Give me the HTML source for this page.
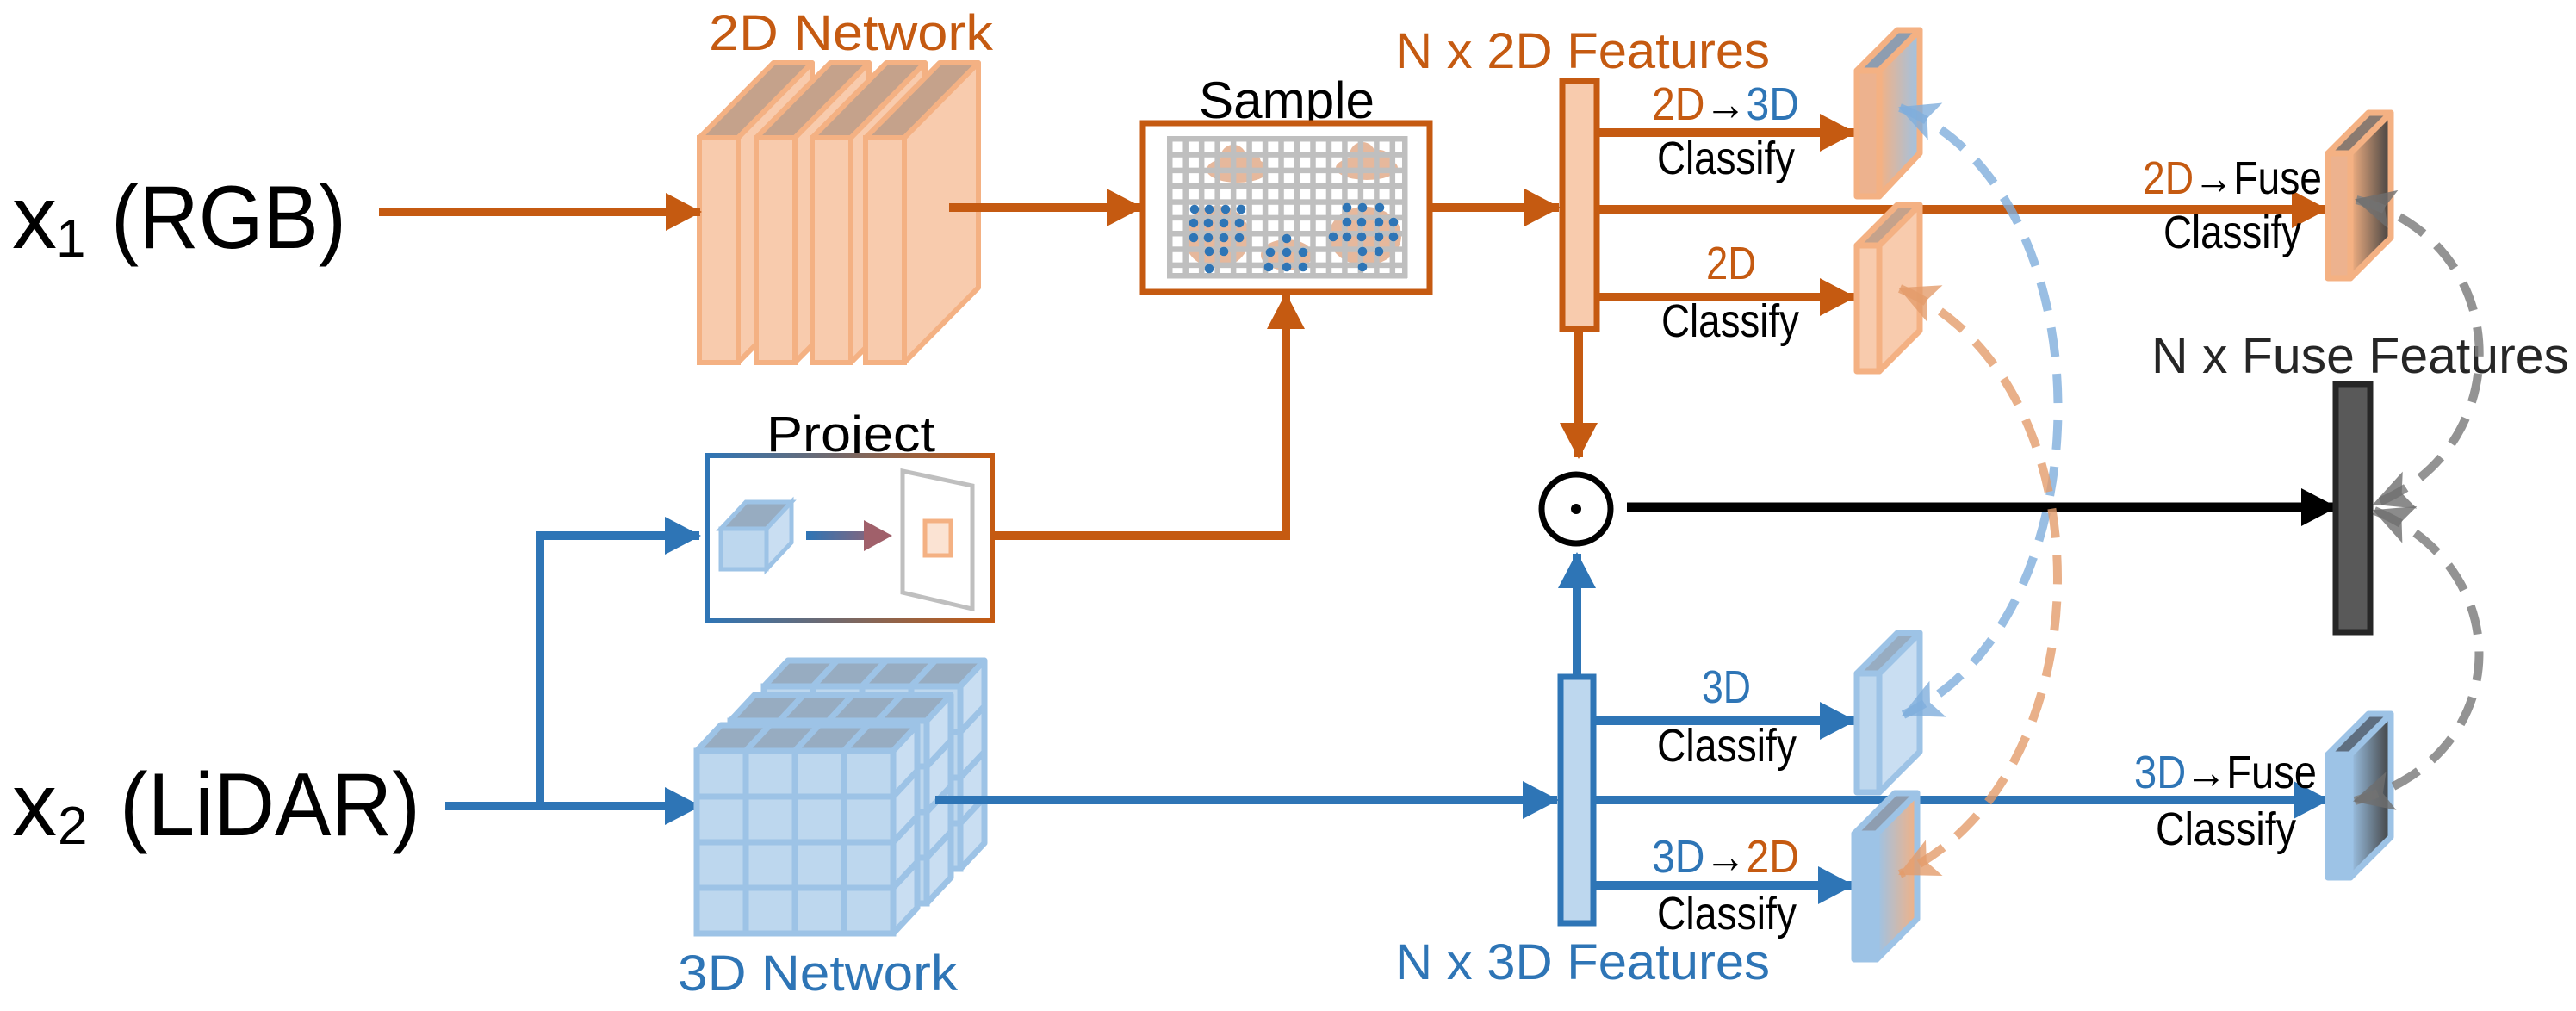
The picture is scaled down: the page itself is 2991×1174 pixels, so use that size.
<!DOCTYPE html>
<html><head><meta charset="utf-8"><style>
html,body{margin:0;padding:0;background:#fff;}
svg{display:block;}
text{font-family:"Liberation Sans",sans-serif;}
</style></head><body>
<svg width="2991" height="1174" viewBox="0 0 2991 1174" xmlns="http://www.w3.org/2000/svg">
<defs>
<marker id="ao" markerWidth="42" markerHeight="44" refX="40" refY="22" orient="auto" markerUnits="userSpaceOnUse"><path d="M0,0 L42,22 L0,44 z" fill="#C55A11"/></marker>
<marker id="ab" markerWidth="42" markerHeight="44" refX="40" refY="22" orient="auto" markerUnits="userSpaceOnUse"><path d="M0,0 L42,22 L0,44 z" fill="#2E75B6"/></marker>
<marker id="ak" markerWidth="42" markerHeight="44" refX="40" refY="22" orient="auto" markerUnits="userSpaceOnUse"><path d="M0,0 L42,22 L0,44 z" fill="#000"/></marker>
<marker id="dB" markerWidth="46" markerHeight="46" refX="44" refY="23" orient="auto-start-reverse" markerUnits="userSpaceOnUse"><path d="M0,0 L46,23 L0,46 L10,23 z" fill="#7FAEDC" fill-opacity="0.8"/></marker>
<marker id="dO" markerWidth="46" markerHeight="46" refX="44" refY="23" orient="auto-start-reverse" markerUnits="userSpaceOnUse"><path d="M0,0 L46,23 L0,46 L10,23 z" fill="#E39C6C" fill-opacity="0.8"/></marker>
<marker id="dG" markerWidth="46" markerHeight="46" refX="44" refY="23" orient="auto-start-reverse" markerUnits="userSpaceOnUse"><path d="M0,0 L46,23 L0,46 L10,23 z" fill="#6E6E6E" fill-opacity="0.8"/></marker>
<linearGradient id="gbo" gradientUnits="userSpaceOnUse" x1="820" y1="0" x2="1153" y2="0"><stop offset="0" stop-color="#2E75B6"/><stop offset="1" stop-color="#C55A11"/></linearGradient>
<linearGradient id="gar" gradientUnits="userSpaceOnUse" x1="936" y1="0" x2="1035" y2="0"><stop offset="0" stop-color="#2E75B6"/><stop offset="1" stop-color="#A0606A"/></linearGradient>
<linearGradient id="o2b" x1="0" y1="0" x2="1" y2="0"><stop offset="0" stop-color="#F4B183"/><stop offset="1" stop-color="#9DC3E6"/></linearGradient>
<linearGradient id="b2o" x1="0" y1="0" x2="1" y2="0"><stop offset="0" stop-color="#9DC3E6"/><stop offset="1" stop-color="#F4B183"/></linearGradient>
<linearGradient id="o2k" x1="0" y1="0" x2="1" y2="0"><stop offset="0" stop-color="#F4B183"/><stop offset="1" stop-color="#404040"/></linearGradient>
<linearGradient id="b2k" x1="0" y1="0" x2="1" y2="0"><stop offset="0" stop-color="#9DC3E6"/><stop offset="1" stop-color="#404040"/></linearGradient>
<pattern id="grid" patternUnits="userSpaceOnUse" x="1355" y="158" width="18.47" height="18.33">
<rect x="0" y="0" width="18.47" height="6.5" fill="#BFBFBF"/><rect x="0" y="0" width="6.5" height="18.33" fill="#BFBFBF"/>
</pattern>
<g id="slab2d">
<polygon points="0,0 45,0 131,-87 86,-87" fill="#C5A28B" stroke="#F4B183" stroke-width="6" stroke-linejoin="round"/>
<polygon points="45,0 131,-87 131,174 45,261" fill="#F8CBAD" stroke="#F4B183" stroke-width="6" stroke-linejoin="round"/>
<rect x="0" y="0" width="45" height="261" fill="#F8CBAD" stroke="#F4B183" stroke-width="6"/>
</g>
<g id="cube">
<polygon points="0,0 57,0 85,-30 28,-30" fill="#97ACC1" stroke="#9DC3E6" stroke-width="7" stroke-linejoin="round"/>
<polygon points="57,0 85,-30 85,23 57,53" fill="#C9DEF2" stroke="#9DC3E6" stroke-width="7" stroke-linejoin="round"/>
<rect x="0" y="0" width="57" height="53" fill="#BDD7EE" stroke="#9DC3E6" stroke-width="7"/>
</g>
<g id="layer">
<use href="#cube" x="0" y="159"/><use href="#cube" x="57" y="159"/><use href="#cube" x="114" y="159"/><use href="#cube" x="171" y="159"/>
<use href="#cube" x="0" y="106"/><use href="#cube" x="57" y="106"/><use href="#cube" x="114" y="106"/><use href="#cube" x="171" y="106"/>
<use href="#cube" x="0" y="53"/><use href="#cube" x="57" y="53"/><use href="#cube" x="114" y="53"/><use href="#cube" x="171" y="53"/>
<use href="#cube" x="0" y="0"/><use href="#cube" x="57" y="0"/><use href="#cube" x="114" y="0"/><use href="#cube" x="171" y="0"/>
</g>
</defs>

<!-- 2D Network -->
<text x="823" y="58" font-size="58" fill="#C55A11" textLength="330" lengthAdjust="spacingAndGlyphs">2D Network</text>
<use href="#slab2d" x="812" y="160"/>
<use href="#slab2d" x="878" y="160"/>
<use href="#slab2d" x="943" y="160"/>
<use href="#slab2d" x="1005" y="160"/>

<!-- inputs -->
<text x="14" y="288" font-size="104" fill="#000">x</text>
<text x="65" y="298" font-size="62" fill="#000">1</text>
<text x="129" y="288" font-size="104" fill="#000" textLength="273" lengthAdjust="spacingAndGlyphs">(RGB)</text>
<text x="14" y="970" font-size="104" fill="#000">x</text>
<text x="67" y="980" font-size="62" fill="#000">2</text>
<text x="139" y="970" font-size="104" fill="#000" textLength="349" lengthAdjust="spacingAndGlyphs">(LiDAR)</text>

<line x1="440" y1="246" x2="813" y2="246" stroke="#C55A11" stroke-width="10" marker-end="url(#ao)"/>
<line x1="1102" y1="241" x2="1325" y2="241" stroke="#C55A11" stroke-width="10" marker-end="url(#ao)"/>

<!-- Sample -->
<text x="1392" y="137" font-size="60" fill="#000" textLength="204" lengthAdjust="spacingAndGlyphs">Sample</text>
<rect x="1327" y="143" width="333" height="196" fill="#fff" stroke="#C55A11" stroke-width="7"/>
<g fill="#E6B89C">
<ellipse cx="1437" cy="197" rx="36" ry="15"/><circle cx="1432" cy="183" r="15"/><circle cx="1452" cy="189" r="12"/>
<ellipse cx="1587" cy="195" rx="36" ry="14"/><circle cx="1582" cy="180" r="15"/><circle cx="1602" cy="186" r="12"/>
<ellipse cx="1413" cy="275" rx="38" ry="36"/><ellipse cx="1494" cy="296" rx="30" ry="18"/><ellipse cx="1585" cy="274" rx="42" ry="34"/>
</g>
<rect x="1355" y="158" width="277" height="165" fill="url(#grid)"/>
<rect x="1628" y="158" width="6.5" height="165" fill="#BFBFBF"/>
<rect x="1355" y="317" width="279" height="6.5" fill="#BFBFBF"/>
<g fill="#2E75B6">
<circle cx="1387" cy="243" r="5.3"/><circle cx="1404" cy="243" r="5.3"/><circle cx="1423" cy="243" r="5.3"/><circle cx="1441" cy="243" r="5.3"/>
<circle cx="1386" cy="259" r="5.3"/><circle cx="1403" cy="259" r="5.3"/><circle cx="1421" cy="259" r="5.3"/><circle cx="1439" cy="259" r="5.3"/>
<circle cx="1386" cy="276" r="5.3"/><circle cx="1403" cy="276" r="5.3"/><circle cx="1421" cy="276" r="5.3"/><circle cx="1439" cy="276" r="5.3"/>
<circle cx="1404" cy="292" r="5.3"/><circle cx="1421" cy="292" r="5.3"/><circle cx="1404" cy="312" r="5.3"/>
<circle cx="1494" cy="277" r="5.3"/><circle cx="1475" cy="293" r="5.3"/><circle cx="1494" cy="293" r="5.3"/><circle cx="1513" cy="293" r="5.3"/>
<circle cx="1473" cy="310" r="5.3"/><circle cx="1494" cy="310" r="5.3"/><circle cx="1513" cy="310" r="5.3"/>
<circle cx="1564" cy="241" r="5.3"/><circle cx="1582" cy="241" r="5.3"/><circle cx="1602" cy="241" r="5.3"/>
<circle cx="1564" cy="258" r="5.3"/><circle cx="1581" cy="258" r="5.3"/><circle cx="1601" cy="258" r="5.3"/><circle cx="1618" cy="258" r="5.3"/>
<circle cx="1548" cy="275" r="5.3"/><circle cx="1564" cy="275" r="5.3"/><circle cx="1581" cy="275" r="5.3"/><circle cx="1601" cy="275" r="5.3"/><circle cx="1618" cy="275" r="5.3"/>
<circle cx="1582" cy="292" r="5.3"/><circle cx="1601" cy="292" r="5.3"/><circle cx="1582" cy="310" r="5.3"/>
</g>

<!-- Project -->
<text x="890" y="524" font-size="58" fill="#000" textLength="196" lengthAdjust="spacingAndGlyphs">Project</text>
<rect x="821" y="529" width="331" height="192" fill="#fff" stroke="url(#gbo)" stroke-width="6"/>
<polygon points="837,614 866,583 919,583 890,614" fill="#97ACC1" stroke="#9DC3E6" stroke-width="5"/>
<polygon points="890,614 919,583 919,630 890,661" fill="#C9DEF2" stroke="#9DC3E6" stroke-width="5"/>
<rect x="837" y="614" width="53" height="47" fill="#BDD7EE" stroke="#9DC3E6" stroke-width="5"/>
<line x1="936" y1="622" x2="1005" y2="622" stroke="url(#gar)" stroke-width="10"/>
<polygon points="1003,604 1036,622 1003,640" fill="#A0606A"/>
<polygon points="1048,547 1129,564 1129,707 1048,688" fill="#fff" stroke="#BFBFBF" stroke-width="5"/>
<rect x="1074" y="605" width="30" height="40" fill="#FBE3D3" stroke="#F4B183" stroke-width="5"/>
<polyline points="1153,622 1493,622 1493,342" fill="none" stroke="#C55A11" stroke-width="10" marker-end="url(#ao)"/>

<!-- LiDAR lines -->
<line x1="517" y1="936" x2="812" y2="936" stroke="#2E75B6" stroke-width="10" marker-end="url(#ab)"/>
<polyline points="627,936 627,622 812,622" fill="none" stroke="#2E75B6" stroke-width="10" marker-end="url(#ab)"/>

<!-- 3D network -->
<use href="#layer" x="887" y="797"/>
<use href="#layer" x="848" y="837"/>
<use href="#layer" x="809" y="872"/>
<text x="787" y="1150" font-size="58" fill="#2E75B6" textLength="325" lengthAdjust="spacingAndGlyphs">3D Network</text>
<line x1="1086" y1="929" x2="1808" y2="929" stroke="#2E75B6" stroke-width="10" marker-end="url(#ab)"/>

<!-- feature bars -->
<text x="1620" y="79" font-size="58" fill="#C55A11" textLength="435" lengthAdjust="spacingAndGlyphs">N x 2D Features</text>
<line x1="1660" y1="241" x2="1810" y2="241" stroke="#C55A11" stroke-width="10" marker-end="url(#ao)"/>
<rect x="1814" y="94" width="40" height="288" fill="#F8CBAD" stroke="#C55A11" stroke-width="7"/>
<line x1="1833" y1="382" x2="1833" y2="531" stroke="#C55A11" stroke-width="10" marker-end="url(#ao)"/>
<circle cx="1830" cy="591" r="40" fill="#fff" stroke="#000" stroke-width="7"/>
<circle cx="1830" cy="591" r="6" fill="#000"/>
<line x1="1831" y1="785" x2="1831" y2="643" stroke="#2E75B6" stroke-width="10" marker-end="url(#ab)"/>
<rect x="1812" y="786" width="38" height="286" fill="#BDD7EE" stroke="#2E75B6" stroke-width="7"/>
<text x="1620" y="1137" font-size="58" fill="#2E75B6" textLength="435" lengthAdjust="spacingAndGlyphs">N x 3D Features</text>

<line x1="1889" y1="589" x2="2712" y2="589" stroke="#000" stroke-width="11" marker-end="url(#ak)"/>
<text x="2498" y="433" font-size="58" fill="#262626" textLength="485" lengthAdjust="spacingAndGlyphs">N x Fuse Features</text>
<rect x="2712" y="446" width="40" height="288" fill="#595959" stroke="#262626" stroke-width="7"/>

<!-- branches 2D -->
<line x1="1854" y1="154" x2="2153" y2="154" stroke="#C55A11" stroke-width="10" marker-end="url(#ao)"/>
<line x1="1854" y1="243" x2="2701" y2="243" stroke="#C55A11" stroke-width="10" marker-end="url(#ao)"/>
<line x1="1854" y1="345" x2="2153" y2="345" stroke="#C55A11" stroke-width="10" marker-end="url(#ao)"/>
<!-- branches 3D -->
<line x1="1850" y1="837" x2="2153" y2="837" stroke="#2E75B6" stroke-width="10" marker-end="url(#ab)"/>
<line x1="1850" y1="929" x2="2703" y2="929" stroke="#2E75B6" stroke-width="10" marker-end="url(#ab)"/>
<line x1="1850" y1="1028" x2="2151" y2="1028" stroke="#2E75B6" stroke-width="10" marker-end="url(#ab)"/>

<!-- labels -->
<g font-size="54">
<text x="1918" y="139" textLength="171" lengthAdjust="spacingAndGlyphs"><tspan fill="#C55A11">2D</tspan><tspan fill="#000">→</tspan><tspan fill="#2E75B6">3D</tspan></text>
<text x="1924" y="202" fill="#000" textLength="160" lengthAdjust="spacingAndGlyphs">Classify</text>
<text x="1981" y="324" fill="#C55A11" textLength="58" lengthAdjust="spacingAndGlyphs">2D</text>
<text x="1929" y="391" fill="#000" textLength="160" lengthAdjust="spacingAndGlyphs">Classify</text>
<text x="2488" y="225" textLength="208" lengthAdjust="spacingAndGlyphs"><tspan fill="#C55A11">2D</tspan><tspan fill="#000">→Fuse</tspan></text>
<text x="2512" y="288" fill="#000" textLength="160" lengthAdjust="spacingAndGlyphs">Classify</text>
<text x="1976" y="816" fill="#2E75B6" textLength="57" lengthAdjust="spacingAndGlyphs">3D</text>
<text x="1924" y="884" fill="#000" textLength="162" lengthAdjust="spacingAndGlyphs">Classify</text>
<text x="2478" y="915" textLength="212" lengthAdjust="spacingAndGlyphs"><tspan fill="#2E75B6">3D</tspan><tspan fill="#000">→Fuse</tspan></text>
<text x="2503" y="981" fill="#000" textLength="163" lengthAdjust="spacingAndGlyphs">Classify</text>
<text x="1918" y="1013" textLength="171" lengthAdjust="spacingAndGlyphs"><tspan fill="#2E75B6">3D</tspan><tspan fill="#000">→</tspan><tspan fill="#C55A11">2D</tspan></text>
<text x="1924" y="1079" fill="#000" textLength="162" lengthAdjust="spacingAndGlyphs">Classify</text>
</g>

<!-- classifier slabs -->
<g stroke-width="7" stroke-linejoin="round">
<!-- 2D->3D -->
<g stroke="#F4B183"><polygon points="2156,82 2182,82 2229,35 2203,35" fill="#8E9DB0"/><polygon points="2182,82 2229,35 2229,178 2182,228" fill="url(#o2b)"/><rect x="2156" y="82" width="26" height="146" fill="#EDB28E"/></g>
<!-- 2D -->
<g stroke="#F4B183"><polygon points="2156,285 2182,285 2229,238 2203,238" fill="#C5A28B"/><polygon points="2182,285 2229,238 2229,384 2182,431" fill="#F8CBAD"/><rect x="2156" y="285" width="26" height="146" fill="#F8CBAD"/></g>
<!-- 2D->Fuse -->
<g stroke="#F4B183"><polygon points="2703,178 2729,178 2776,131 2750,131" fill="#8A7A70"/><polygon points="2729,178 2776,131 2776,276 2729,323" fill="url(#o2k)"/><rect x="2703" y="178" width="26" height="145" fill="#EDB28E"/></g>
<!-- 3D -->
<g stroke="#9DC3E6"><polygon points="2156,782 2182,782 2229,735 2203,735" fill="#97ACC1"/><polygon points="2182,782 2229,735 2229,873 2182,920" fill="#C9DEF2"/><rect x="2156" y="782" width="26" height="138" fill="#BDD7EE"/></g>
<!-- 3D->2D -->
<g stroke="#9DC3E6"><polygon points="2153,968 2179,968 2226,921 2200,921" fill="#8E9DB0"/><polygon points="2179,968 2226,921 2226,1067 2179,1114" fill="url(#b2o)"/><rect x="2153" y="968" width="26" height="146" fill="#9DC3E6"/></g>
<!-- 3D->Fuse -->
<g stroke="#9DC3E6"><polygon points="2703,876 2729,876 2776,829 2750,829" fill="#5E6E80"/><polygon points="2729,876 2776,829 2776,972 2729,1019" fill="url(#b2k)"/><rect x="2703" y="876" width="26" height="143" fill="#9DC3E6"/></g>
</g>

<!-- dashed curves -->
<g fill="none" stroke-width="10" stroke-dasharray="34 20">
<path d="M2206,125 C2450,220 2450,720 2210,830" stroke="#7FAEDC" stroke-opacity="0.8" marker-start="url(#dB)" marker-end="url(#dB)"/>
<path d="M2206,335 C2450,440 2450,900 2206,1015" stroke="#E39C6C" stroke-opacity="0.8" marker-start="url(#dO)" marker-end="url(#dO)"/>
<path d="M2736,232 C2920,280 2925,520 2757,585" stroke="#808080" stroke-opacity="0.85" marker-start="url(#dG)" marker-end="url(#dG)"/>
<path d="M2757,593 C2925,660 2920,880 2734,930" stroke="#808080" stroke-opacity="0.85" marker-start="url(#dG)" marker-end="url(#dG)"/>
</g>
</svg>
</body></html>
